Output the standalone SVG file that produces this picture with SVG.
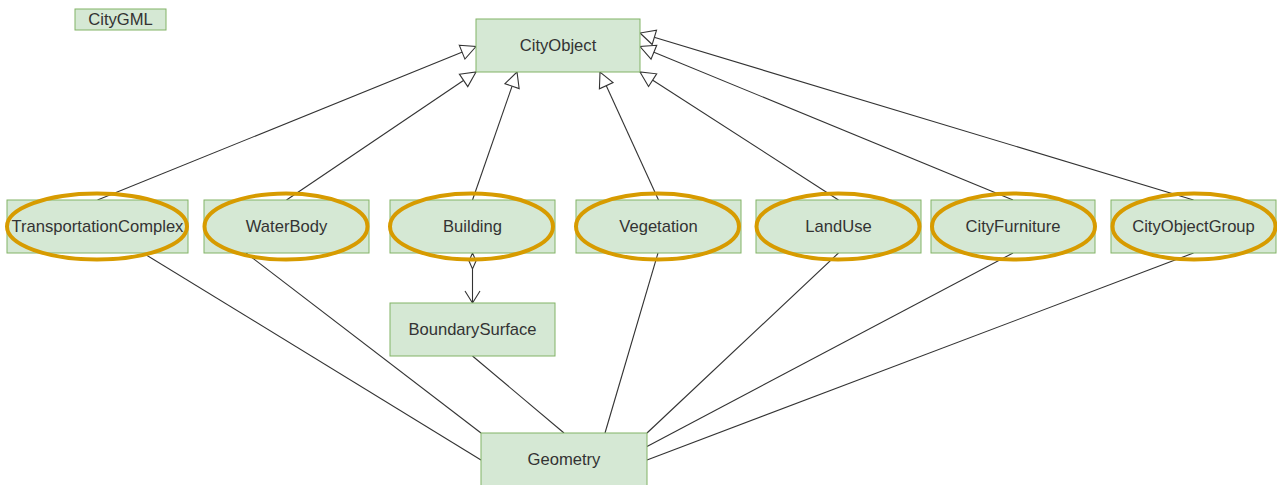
<svg xmlns="http://www.w3.org/2000/svg" width="1277" height="485" viewBox="0 0 1277 485">
  <defs>
    <!-- hollow triangle for generalisation -->
    <marker id="gen" markerUnits="userSpaceOnUse" markerWidth="18" markerHeight="18" refX="15" refY="7.5" orient="auto" overflow="visible">
      <path d="M0,0 L15,7.5 L0,15 Z" fill="#ffffff" stroke="#333333" stroke-width="1.1"/>
    </marker>
    <!-- open arrow for navigable end -->
    <marker id="open" markerUnits="userSpaceOnUse" markerWidth="14" markerHeight="18" refX="12" refY="7.5" orient="auto" overflow="visible">
      <path d="M0,0 L12,7.5 L0,15" fill="none" stroke="#333333" stroke-width="1.1"/>
    </marker>
    <!-- hollow thin diamond for aggregation -->
    <marker id="agg" markerUnits="userSpaceOnUse" markerWidth="18" markerHeight="10" refX="16" refY="4" orient="auto" overflow="visible">
      <path d="M0,4 L8,0.5 L16,4 L8,7.5 Z" fill="none" stroke="#333333" stroke-width="1.1"/>
    </marker>
  </defs>
  <style>
    .box { fill: #d5e8d4; stroke: #82b366; stroke-width: 1; }
    .ring { fill: none; stroke: #d79b00; stroke-width: 4; }
    .lbl { font-family: "Liberation Sans", Arial, sans-serif; font-size: 16.6px; fill: #333333; text-anchor: middle; dominant-baseline: central; }
    .edge { fill: none; stroke: #333333; stroke-width: 1.1; }
  </style>

  <rect width="1277" height="485" fill="#ffffff"/>

  <g id="connectors">
    <!-- generalisation to CityObject -->
    <line class="edge" x1="97.5" y1="200" x2="476" y2="46.5" marker-end="url(#gen)"/>
    <line class="edge" x1="286.5" y1="200" x2="476" y2="72" marker-end="url(#gen)"/>
    <line class="edge" x1="472.5" y1="200" x2="517" y2="72" marker-end="url(#gen)"/>
    <line class="edge" x1="658.5" y1="200" x2="600" y2="72" marker-end="url(#gen)"/>
    <line class="edge" x1="838.5" y1="200" x2="640" y2="72" marker-end="url(#gen)"/>
    <line class="edge" x1="1013" y1="200" x2="640" y2="46.5" marker-end="url(#gen)"/>
    <line class="edge" x1="1193.5" y1="200" x2="640" y2="33" marker-end="url(#gen)"/>
    <!-- Building aggregates BoundarySurface -->
    <line class="edge" x1="472.5" y1="269" x2="472.5" y2="303" marker-start="url(#agg)" marker-end="url(#open)"/>
    <!-- associations to Geometry -->
    <line class="edge" x1="143" y1="253" x2="481" y2="460"/>
    <line class="edge" x1="246" y1="253" x2="481" y2="433"/>
    <line class="edge" x1="472.5" y1="356" x2="564" y2="433"/>
    <line class="edge" x1="658" y1="253" x2="605" y2="433"/>
    <line class="edge" x1="838.5" y1="253" x2="647" y2="433"/>
    <line class="edge" x1="1013" y1="253" x2="647" y2="446.5"/>
    <line class="edge" x1="1193.5" y1="253" x2="647" y2="460"/>
  </g>

  <g id="citygml">
    <rect class="box" x="75" y="9" width="91" height="21"/>
    <text class="lbl" x="120.5" y="19.5">CityGML</text>
  </g>
  <g id="cityobject">
    <rect class="box" x="476" y="19" width="164" height="53"/>
    <text class="lbl" x="558" y="45.5">CityObject</text>
  </g>
  <g id="transportationcomplex">
    <rect class="box" x="7" y="200" width="181" height="53"/>
    <text class="lbl" x="97.5" y="226.5">TransportationComplex</text>
    <ellipse class="ring" cx="97" cy="226.5" rx="90" ry="33"/>
  </g>
  <g id="waterbody">
    <rect class="box" x="204" y="200" width="165" height="53"/>
    <text class="lbl" x="286.5" y="226.5">WaterBody</text>
    <ellipse class="ring" cx="286" cy="226.5" rx="81.5" ry="33"/>
  </g>
  <g id="building">
    <rect class="box" x="390" y="200" width="165" height="53"/>
    <text class="lbl" x="472.5" y="226.5">Building</text>
    <ellipse class="ring" cx="471.5" cy="226.5" rx="81.5" ry="33"/>
  </g>
  <g id="vegetation">
    <rect class="box" x="576" y="200" width="165" height="53"/>
    <text class="lbl" x="658.5" y="226.5">Vegetation</text>
    <ellipse class="ring" cx="657.5" cy="226.5" rx="81.5" ry="33"/>
  </g>
  <g id="landuse">
    <rect class="box" x="756" y="200" width="165" height="53"/>
    <text class="lbl" x="838.5" y="226.5">LandUse</text>
    <ellipse class="ring" cx="838" cy="226.5" rx="81.5" ry="33"/>
  </g>
  <g id="cityfurniture">
    <rect class="box" x="931" y="200" width="164" height="53"/>
    <text class="lbl" x="1013" y="226.5">CityFurniture</text>
    <ellipse class="ring" cx="1013.5" cy="226.5" rx="81.5" ry="33"/>
  </g>
  <g id="cityobjectgroup">
    <rect class="box" x="1111" y="200" width="165" height="53"/>
    <text class="lbl" x="1193.5" y="226.5">CityObjectGroup</text>
    <ellipse class="ring" cx="1194" cy="226.5" rx="81.5" ry="33"/>
  </g>
  <g id="boundarysurface">
    <rect class="box" x="390" y="303" width="165" height="53"/>
    <text class="lbl" x="472.5" y="329.5">BoundarySurface</text>
  </g>
  <g id="geometry">
    <rect class="box" x="481" y="433" width="166" height="53"/>
    <text class="lbl" x="564" y="459.5">Geometry</text>
  </g>
</svg>
